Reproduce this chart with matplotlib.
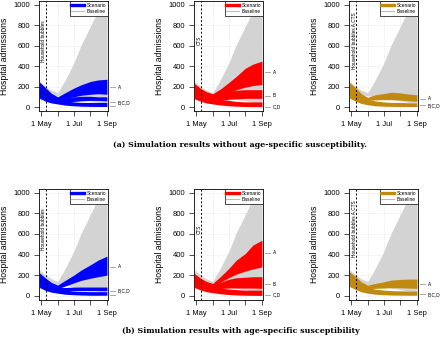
import numpy as np
import matplotlib
matplotlib.use("Agg")
import matplotlib.pyplot as plt
import matplotlib.dates as mdates
from matplotlib.lines import Line2D
import matplotlib.transforms as mtrans

plt.rcParams['font.family'] = ['Liberation Sans', 'DejaVu Sans']

# ---------------- data ----------------
dates = ['2021-04-28', '2021-05-10', '2021-05-20', '2021-06-01', '2021-06-15',
         '2021-07-01', '2021-07-15', '2021-08-01', '2021-08-15', '2021-09-01']

baseline_hi = [250, 200, 165, 140, 265, 430, 610, 790, 940, 1150]
baseline_lo = [170, 140, 120, 110, 100, 90, 75, 60, 45, 35]

# row (a): without age-specific susceptibility
a1_A_hi = [245, 185, 135, 100, 140, 185, 218, 250, 265, 272]
a1_A_lo = [150, 110, 90, 75, 85, 100, 115, 125, 130, 125]
a1_B_hi = [200, 150, 115, 90, 90, 100, 105, 105, 100, 100]
a1_B_lo = [100, 70, 50, 40, 45, 55, 60, 65, 65, 60]
a1_C_hi = [180, 130, 100, 75, 60, 50, 45, 45, 45, 45]
a1_C_lo = [85, 55, 40, 30, 18, 12, 8, 6, 5, 5]

a2_A_hi = [230, 180, 150, 130, 175, 240, 300, 380, 420, 450]
a2_A_lo = [150, 110, 90, 80, 110, 140, 170, 195, 210, 220]
a2_B_hi = [200, 150, 120, 110, 130, 150, 165, 170, 170, 170]
a2_B_lo = [100, 75, 60, 55, 65, 75, 80, 85, 85, 85]
a2_C_hi = [180, 130, 100, 85, 75, 65, 55, 50, 50, 50]
a2_C_lo = [80, 55, 40, 30, 20, 12, 8, 5, 4, 3]

a3_A_hi = [240, 185, 130, 95, 120, 132, 145, 138, 128, 120]
a3_A_lo = [140, 105, 80, 65, 70, 72, 72, 68, 62, 55]
a3_C_hi = [200, 140, 100, 75, 60, 50, 45, 45, 42, 40]
a3_C_lo = [88, 55, 35, 22, 12, 8, 6, 5, 5, 5]

# row (b): with age-specific susceptibility
b1_A_hi = [222, 168, 130, 104, 150, 200, 250, 300, 345, 385]
b1_A_lo = [140, 105, 85, 70, 95, 125, 150, 170, 185, 200]
b1_B_hi = [190, 140, 105, 85, 80, 85, 85, 85, 85, 85]
b1_B_lo = [110, 75, 55, 45, 45, 50, 50, 50, 50, 50]
b1_C_hi = [170, 120, 90, 70, 55, 45, 42, 40, 40, 40]
b1_C_lo = [80, 50, 35, 25, 15, 10, 7, 5, 5, 5]

b2_A_hi = [215, 168, 140, 120, 184, 265, 346, 411, 492, 540]
b2_A_lo = [140, 110, 90, 85, 130, 175, 210, 240, 260, 280]
b2_B_hi = [190, 140, 115, 100, 130, 160, 175, 180, 185, 185]
b2_B_lo = [110, 80, 65, 60, 70, 75, 75, 75, 75, 72]
b2_C_hi = [170, 125, 100, 85, 75, 65, 60, 55, 55, 55]
b2_C_lo = [80, 55, 40, 30, 20, 12, 8, 5, 4, 3]

b3_A_hi = [232, 184, 135, 104, 120, 136, 152, 159, 162, 162]
b3_A_lo = [145, 110, 85, 70, 72, 75, 78, 78, 75, 72]
b3_C_hi = [200, 145, 105, 80, 65, 55, 50, 48, 46, 45]
b3_C_lo = [90, 60, 38, 25, 15, 10, 7, 6, 5, 5]

intervention_labels = ['Household bubbles', 'CTS', 'Household bubbles A,CTS']
intervention_date = '2021-05-10'
scenario_colors = ['#0000FF', '#FF0000', '#BF8A0F']

# end labels: (text, y of label, [y of marker lines])
end_labels_a = [
    [('A', 195, [195]), ('B,C,D', 38, [45, 10])],
    [('A', 340, [340]), ('B', 110, [110]), ('C,D', 5, [5])],
    [('A', 80, [80]), ('B,C,D', 15, [15])],
]
end_labels_b = [
    [('A', 282, [282]), ('B,C,D', 48, [48, 8])],
    [('A', 420, [420]), ('B', 113, [113]), ('C,D', 10, [10])],
    [('A', 110, [110]), ('B,C,D', 13, [13])],
]

captions = ['(a) Simulation results without age-specific susceptibility.',
            '(b) Simulation results with age-specific susceptibility']

rows = [
    [[(a1_A_lo, a1_A_hi), (a1_B_lo, a1_B_hi), (a1_C_lo, a1_C_hi)],
     [(a2_A_lo, a2_A_hi), (a2_B_lo, a2_B_hi), (a2_C_lo, a2_C_hi)],
     [(a3_A_lo, a3_A_hi), (a3_C_lo, a3_C_hi)]],
    [[(b1_A_lo, b1_A_hi), (b1_B_lo, b1_B_hi), (b1_C_lo, b1_C_hi)],
     [(b2_A_lo, b2_A_hi), (b2_B_lo, b2_B_hi), (b2_C_lo, b2_C_hi)],
     [(b3_A_lo, b3_A_hi), (b3_C_lo, b3_C_hi)]],
]
row_labels = [end_labels_a, end_labels_b]

# ---------------- figure ----------------
W, H = 440, 348
fig = plt.figure(figsize=(W / 100, H / 100), dpi=100)

t = np.array(dates, dtype='datetime64[D]')
tnum = mdates.date2num(t)
xlim = mdates.date2num(np.array(['2021-04-27', '2021-09-03'], dtype='datetime64[D]'))
major = mdates.date2num(np.array(['2021-05-01', '2021-06-01', '2021-07-01',
                                  '2021-08-01', '2021-09-01'], dtype='datetime64[D]'))
major_labels = ['1 May', '', '1 Jul', '', '1 Sep']
vline = mdates.date2num(np.datetime64(intervention_date))

lefts = [39, 194, 349]
row_box = [(1, 111), (189, 300)]
ylims = [(-39, 1039), (-41, 1037)]
gray = '#D3D3D3'

for r in range(2):
    top, bot = row_box[r]
    for c in range(3):
        ax = fig.add_axes([lefts[c] / W, 1 - bot / H, 69 / W, (bot - top) / H])
        ax.set_xlim(xlim)
        ax.set_ylim(ylims[r])
        for yv in [0, 200, 400, 600, 800, 1000]:
            ax.axhline(yv, color='#DDDDDD', lw=0.5, ls=':', zorder=0)
        for xv in major:
            ax.axvline(xv, color='#DDDDDD', lw=0.5, ls=':', zorder=0)
        ax.fill_between(tnum, baseline_lo, baseline_hi, color=gray, lw=0, zorder=1)
        col = scenario_colors[c]
        for lo, hi in rows[r][c]:
            ax.fill_between(tnum, lo, hi, color=col, lw=0, zorder=2)
        ax.axvline(vline, color='black', lw=0.7, ls=(0, (2, 2)), zorder=3)
        ax.text(vline - 4, 650, intervention_labels[c], rotation=90,
                ha='center', va='center', fontsize=3.4, zorder=4)
        ax.set_yticks([0, 200, 400, 600, 800, 1000])
        ax.set_xticks(major)
        ax.set_xticklabels(major_labels)
        ax.tick_params(axis='both', labelsize=5.4, width=0.6, length=3.5, color='#333333')
        ax.tick_params(axis='x', pad=4)
        ax.tick_params(axis='y', pad=3)
        ax.set_ylabel('Hospital admissions', fontsize=6.2, labelpad=3)
        for s in ax.spines.values():
            s.set_linewidth(0.6)
        handles = [Line2D([0], [0], color=col, lw=2.4),
                   Line2D([0], [0], color='#BBBBBB', lw=0.8)]
        leg = ax.legend(handles, ['Scenario', 'Baseline'], loc='upper right',
                        fontsize=3.5, frameon=True, fancybox=False,
                        borderaxespad=0.1, borderpad=0.35, handlelength=2.6,
                        labelspacing=0.2, handletextpad=0.5)
        leg.get_frame().set_edgecolor('black')
        leg.get_frame().set_linewidth(0.5)
        leg.get_frame().set_alpha(1)
        tr = mtrans.blended_transform_factory(ax.transAxes, ax.transData)
        for txt, yl, ys in row_labels[r][c]:
            for yv in ys:
                ax.plot([1.03, 1.10], [yv, yv], color='#999999', lw=0.6,
                        transform=tr, clip_on=False)
            ax.text(1.14, yl, txt, transform=tr, fontsize=3.4, ha='left', va='center')

fig.text(240 / W, 1 - 145 / H, captions[0], ha='center', va='center',
         fontsize=5.7, fontweight='bold', family='DejaVu Serif')
fig.text(241 / W, 1 - 331 / H, captions[1], ha='center', va='center',
         fontsize=5.7, fontweight='bold', family='DejaVu Serif')

fig.savefig('out.png', dpi=100)
